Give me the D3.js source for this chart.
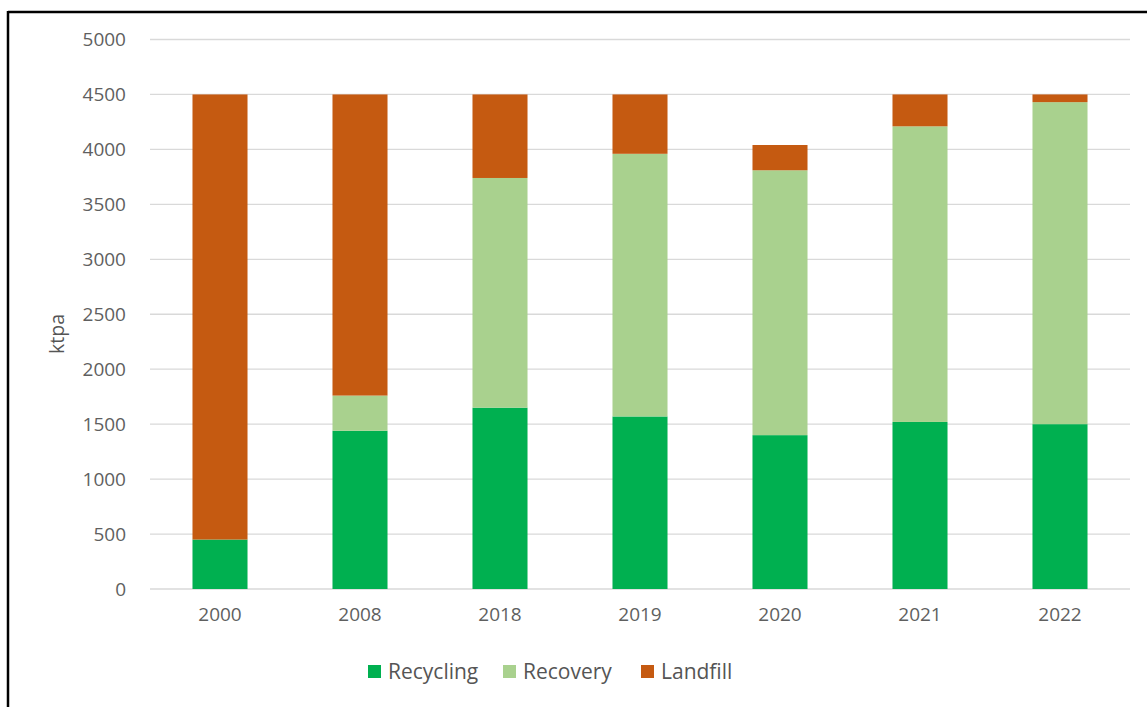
<!DOCTYPE html>
<html>
<head>
<meta charset="utf-8">
<script src="https://cdn.jsdelivr.net/npm/d3@7"></script>
<style>
  html, body { margin: 0; padding: 0; background: #fff; }
  svg { display: block; }
</style>
</head>
<body>
<svg id="chart" width="1147" height="707"></svg>
<script>
const categories = ["2000", "2008", "2018", "2019", "2020", "2021", "2022"];
const recycling = [450, 1440, 1650, 1570, 1400, 1520, 1500];
const recovery  = [0, 320, 2090, 2390, 2410, 2690, 2930];
const landfill  = [4050, 2740, 760, 540, 230, 290, 70];
const seriesNames = ["Recycling", "Recovery", "Landfill"];
const seriesColors = ["#00b050", "#a9d18e", "#c55a11"];
const yTicks = [0, 500, 1000, 1500, 2000, 2500, 3000, 3500, 4000, 4500, 5000];

const svg = d3.select("#chart");
const W = 1147, H = 707;
const font = "'Open Sans', sans-serif";

// frame (left + top)
svg.append("line").attr("x1", 8).attr("x2", W).attr("y1", 12).attr("y2", 12)
  .attr("stroke", "#000").attr("stroke-width", 2.5);
svg.append("line").attr("x1", 8).attr("x2", 8).attr("y1", 11).attr("y2", H)
  .attr("stroke", "#000").attr("stroke-width", 2.5);

const plot = { left: 150, right: 1130, top: 39.5, bottom: 589 };

const x = d3.scaleBand().domain(categories).range([plot.left, plot.right]).paddingInner(0.607).paddingOuter(0.3035);
const y = d3.scaleLinear().domain([0, 5000]).range([plot.bottom, plot.top]);

// gridlines
svg.append("g").selectAll("line").data(yTicks).join("line")
  .attr("x1", plot.left).attr("x2", plot.right)
  .attr("y1", d => y(d)).attr("y2", d => y(d))
  .attr("stroke", "#d9d9d9").attr("stroke-width", 1.3);

// y axis labels
const yAxis = d3.axisLeft(y).tickValues(yTicks).tickSize(0).tickPadding(0).tickFormat(d3.format("d"));
const yg = svg.append("g").attr("transform", `translate(${126},0)`).call(yAxis);
yg.select(".domain").remove();
yg.selectAll("text").attr("font-family", font).attr("font-size", 19).attr("fill", "#5f5f5f");

// x axis labels
const xAxis = d3.axisBottom(x).tickSize(0).tickPadding(0);
const xg = svg.append("g").attr("transform", `translate(0,${607})`).call(xAxis);
xg.select(".domain").remove();
xg.selectAll("text").attr("font-family", font).attr("font-size", 19).attr("fill", "#5f5f5f");

// stacked data
const rows = categories.map((c, i) => ({ cat: c, Recycling: recycling[i], Recovery: recovery[i], Landfill: landfill[i] }));
const stack = d3.stack().keys(seriesNames)(rows);

svg.append("g").selectAll("g").data(stack).join("g")
  .attr("fill", (d, i) => seriesColors[i])
  .selectAll("rect").data(d => d).join("rect")
  .attr("x", d => x(d.data.cat))
  .attr("width", x.bandwidth())
  .attr("y", d => y(d[1]))
  .attr("height", d => Math.max(0, y(d[0]) - y(d[1])));

// y axis title
svg.append("text").attr("transform", `translate(64,334) rotate(-90)`)
  .attr("text-anchor", "middle").attr("font-family", font).attr("font-size", 19.5)
  .attr("fill", "#555").text("ktpa");

// legend
const legendX = [368, 503, 641];
const lg = svg.append("g");
seriesNames.forEach((name, i) => {
  lg.append("rect").attr("x", legendX[i]).attr("y", 665).attr("width", 13).attr("height", 13)
    .attr("fill", seriesColors[i]);
  lg.append("text").attr("x", legendX[i] + 20).attr("y", 679)
    .attr("font-family", font).attr("font-size", 21).attr("fill", "#555").text(name);
});
</script>
</body>
</html>
